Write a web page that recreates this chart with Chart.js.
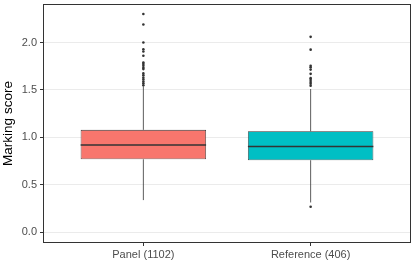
<!DOCTYPE html>
<html>
<head>
<meta charset="utf-8">
<script src="https://cdn.jsdelivr.net/npm/chart.js@4"></script>
<style>
  html, body { margin: 0; padding: 0; background: #fff; }
  #wrap { width: 415px; height: 277px; }
</style>
</head>
<body>
<div id="wrap"><canvas id="box-chart"></canvas></div>
<script>
// Data
const categories = ['Panel (1102)', 'Reference (406)'];
const boxColors = ['#F8766D', '#00BFC4'];
const q1 = [0.77, 0.76];
const median = [0.92, 0.905];
const q3 = [1.08, 1.065];
const whiskerLow = [0.34, 0.315];
const whiskerHigh = [1.54, 1.51];
const outliersPanel = [2.30, 2.19, 2.00, 1.93, 1.905, 1.86, 1.79, 1.775, 1.755, 1.735, 1.72, 1.675, 1.655, 1.63, 1.61, 1.59, 1.57, 1.55];
const outliersReference = [2.06, 1.925, 1.755, 1.74, 1.715, 1.67, 1.625, 1.605, 1.585, 1.565, 1.545, 0.27];
const yTicks = [0, 0.5, 1.0, 1.5, 2.0];

const ink = '#333333';
const halfBox = 0.375;
const font = "'Liberation Sans', Arial, sans-serif";

// Build datasets
const medianSets = categories.map((c, i) => ({
  type: 'line',
  data: [{ x: i + 1 - halfBox, y: median[i] }, { x: i + 1 + halfBox, y: median[i] }],
  borderColor: ink, borderWidth: 1.6, pointRadius: 0, order: 0
}));

const outlierSets = [outliersPanel, outliersReference].map((vals, i) => ({
  type: 'scatter',
  data: vals.map(v => ({ x: i + 1, y: v })),
  backgroundColor: ink, borderWidth: 0, pointRadius: 1.3, order: 1
}));

const boxSet = {
  type: 'bar',
  data: categories.map((c, i) => ({ x: i + 1, y: [q1[i], q3[i]] })),
  backgroundColor: boxColors,
  borderColor: ink, borderWidth: 0.8, borderSkipped: false,
  categoryPercentage: 1, barPercentage: 0.75, order: 2
};

const whiskerSets = categories.flatMap((c, i) => [
  [whiskerLow[i], q1[i]],
  [q3[i], whiskerHigh[i]]
].map(seg => ({
  type: 'line',
  data: seg.map(v => ({ x: i + 1, y: v })),
  borderColor: ink, borderWidth: 0.8, pointRadius: 0, order: 3
})));

// Panel border
const panelBorder = {
  id: 'panelBorder',
  afterDraw(chart) {
    const { ctx, chartArea: a } = chart;
    ctx.save();
    ctx.strokeStyle = ink;
    ctx.lineWidth = 1;
    ctx.strokeRect(a.left + 0.5, a.top + 0.5, a.right - a.left - 1, a.bottom - a.top - 1);
    ctx.restore();
  }
};

new Chart(document.getElementById('box-chart'), {
  data: { datasets: [...medianSets, ...outlierSets, boxSet, ...whiskerSets] },
  options: {
    responsive: true,
    maintainAspectRatio: false,
    animation: false,
    layout: { padding: { top: 2, right: 2, left: 0, bottom: 0 } },
    plugins: { legend: { display: false }, tooltip: { enabled: false } },
    scales: {
      x: {
        type: 'linear', min: 0.4, max: 2.6, offset: false,
        afterBuildTicks: (s) => { s.ticks = categories.map((c, i) => ({ value: i + 1 })); },
        afterFit: (s) => { s.height = 34; s.paddingLeft = 0; s.paddingRight = 0; },
        ticks: {
          callback: (v) => categories[v - 1],
          color: '#4d4d4d', font: { family: font, size: 11 }, padding: 2, maxRotation: 0
        },
        grid: { offset: false, drawOnChartArea: false, drawTicks: true, tickLength: 3, tickColor: ink },
        border: { display: false }
      },
      y: {
        min: -0.112, max: 2.406,
        afterBuildTicks: (s) => { s.ticks = yTicks.map(v => ({ value: v })); },
        afterFit: (s) => { s.width = 43; s.paddingTop = 0; s.paddingBottom = 0; },
        ticks: {
          callback: (v) => v.toFixed(1),
          color: '#4d4d4d', font: { family: font, size: 11 }, padding: 3
        },
        grid: { color: '#ebebeb', lineWidth: 1, tickLength: 3, tickColor: ink },
        border: { display: false },
        title: {
          display: true, text: 'Marking score', color: '#000',
          font: { family: font, size: 13.5 }, padding: { top: 0, bottom: 2 }
        }
      }
    }
  },
  plugins: [panelBorder]
});
</script>
</body>
</html>
